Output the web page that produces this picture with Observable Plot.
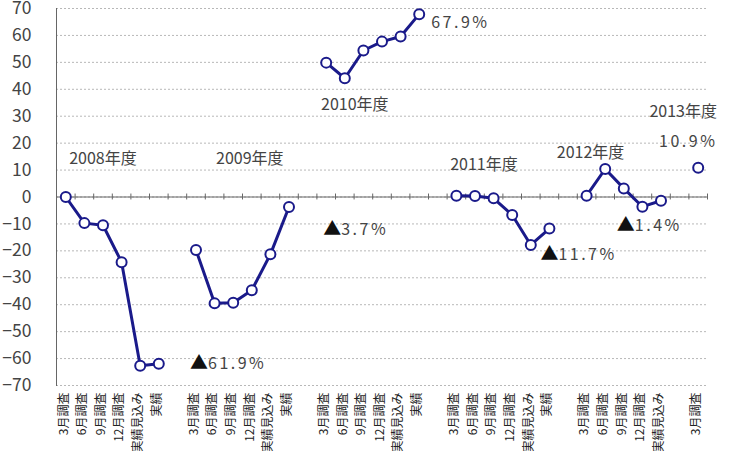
<!DOCTYPE html>
<html><head><meta charset="utf-8">
<script src="https://cdn.jsdelivr.net/npm/d3@7"></script>
<script src="https://cdn.jsdelivr.net/npm/@observablehq/plot@0.6"></script>
<style>
html,body{margin:0;padding:0;background:#fff;}
#chart{width:729px;height:451px;overflow:hidden;}
</style>
</head><body><div id="chart"></div>
<script>
const years = ["2008年度","2009年度","2010年度","2011年度","2012年度","2013年度"];
const surveys = ["3月調査","6月調査","9月調査","12月調査","実績見込み","実績"];
const values2008 = [0, -9.7, -10.5, -24.2, -62.7, -61.9];
const values2009 = [-19.7, -39.5, -39.3, -34.6, -21.3, -3.7];
const values2010 = [49.9, 44.1, 54.4, 57.7, 59.6, 67.9];
const values2011 = [0.5, 0.4, -0.5, -6.7, -17.8, -11.7];
const values2012 = [0.5, 10.4, 3.2, -3.6, -1.4];
const values2013 = [10.9];
const yTicks = [70,60,50,40,30,20,10,0,-10,-20,-30,-40,-50,-60,-70];

// annotations: [text, year, survey, value, anchor, dx]
const yearLabels = [
  ["2008年度","2008年度","9月調査",14.1,"middle",0],
  ["2009年度","2009年度","12月調査",14.1,"middle",-2],
  ["2010年度","2010年度","6月調査",34.2,"middle",10],
  ["2011年度","2011年度","6月調査",11.9,"middle",9],
  ["2012年度","2012年度","3月調査",16.5,"middle",4],
  ["2013年度","2013年度","3月調査",31.6,"middle",-15]
];
const pctLabels = [
  ["67.9%","2010年度","実績",64.7,"start",12],
  ["10.9%","2013年度","3月調査",20.6,"middle",-10],
  ["▲61.9%","2009年度","3月調査",-61.9,"start",-6],
  ["▲3.7%","2010年度","3月調査",-12.3,"start",-3],
  ["▲11.7%","2011年度","実績",-21.6,"start",-9],
  ["▲1.4%","2012年度","9月調査",-10.8,"start",-7]
];

const seriesValues = [values2008, values2009, values2010, values2011, values2012, values2013];
const xDomain = [];
const data = [];
years.forEach((yr, i) => {
  seriesValues[i].forEach((v, j) => {
    const key = yr + "|" + surveys[j];
    xDomain.push(key);
    data.push({key, year: yr, value: v});
  });
  if (i < years.length - 1) xDomain.push("gap" + i);
});

const W = 729, H = 451, ML = 56, MR = 22, MT = 8, MB = 66;
const bw = (W - ML - MR) / xDomain.length;
const navy = "#1a1a8a";

const toAnn = (arr) => arr.map(([t, yr, s, v, a, dx]) => ({t, key: yr + "|" + s, v, a, dx}));
const yl = toAnn(yearLabels), pl = toAnn(pctLabels);

const textMarks = (arr, opts) => arr.map(d => Plot.text([d], {x: "key", y: "v", text: "t", textAnchor: d.a, dx: d.dx, ...opts}));

const chart = Plot.plot({
  width: W, height: H, marginLeft: ML, marginRight: MR, marginTop: MT, marginBottom: MB,
  style: {fontFamily: "'Noto Sans CJK JP','Noto Sans',sans-serif", background: "#fff"},
  x: {type: "band", domain: xDomain, padding: 0, round: false, axis: null},
  y: {domain: [-70, 70], axis: null},
  marks: [
    Plot.gridY(yTicks, {stroke: "#b8b8b8", strokeOpacity: 1, strokeDasharray: "2,2"}),
    Plot.ruleY([0], {stroke: "#666", strokeWidth: 1.2}),
    Plot.ruleX(xDomain, {x: d => d, y1: -1.1, y2: 1.1, dx: -bw / 2, stroke: "#666"}),
    Plot.ruleX([xDomain[xDomain.length - 1]], {x: d => d, y1: -1.1, y2: 1.1, dx: bw / 2, stroke: "#666"}),
    Plot.frame({anchor: "left", stroke: "#666"}),
    Plot.axisY({ticks: yTicks, tickSize: 0, tickPadding: 25, fontSize: 17.5, color: "#444", label: null}),
    Plot.axisX({tickRotate: -90, tickSize: 0, tickPadding: 7, fontSize: 12, color: "#222", label: null, dx: -2,
      tickFormat: d => d.startsWith("gap") ? "" : d.split("|")[1]}),
    Plot.line(data, {x: "key", y: "value", z: "year", stroke: navy, strokeWidth: 3}),
    Plot.dot(data, {x: "key", y: "value", r: 5, fill: "white", stroke: navy, strokeWidth: 2}),
    ...textMarks(yl, {fontSize: 16, fill: "#444"}),
    ...textMarks(pl, {fontSize: 16, fill: "#444"})
  ]
});
chart.querySelectorAll("text").forEach(t => {
  const s = t.textContent;
  if (s.includes("%")) {
    t.style.letterSpacing = "2.5px";
    if (s.startsWith("▲")) {
      t.textContent = "";
      const a = document.createElementNS("http://www.w3.org/2000/svg", "tspan");
      a.textContent = "▲"; a.setAttribute("font-size", "18"); a.setAttribute("fill", "#111");
      a.style.letterSpacing = "0px";
      const b = document.createElementNS("http://www.w3.org/2000/svg", "tspan");
      b.textContent = s.slice(1);
      t.appendChild(a); t.appendChild(b);
    }
  }
});
document.getElementById("chart").appendChild(chart);
</script>
</body></html>
